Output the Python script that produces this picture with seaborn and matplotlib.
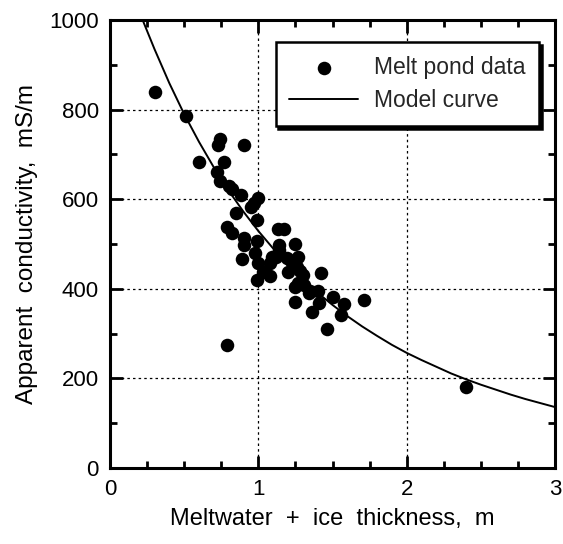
import matplotlib
matplotlib.use("Agg")
import matplotlib.pyplot as plt
import seaborn as sns
import pandas as pd
from matplotlib.ticker import MultipleLocator

# ---- data ----
thickness = [0.30, 0.51, 0.60, 0.74, 0.73, 0.90, 0.77, 0.72, 0.74, 0.80,
             0.82, 0.88, 1.00, 0.97, 0.95, 0.85, 0.99, 0.79, 0.82, 1.13,
             1.17, 0.90, 0.90, 0.99, 1.25, 1.14, 1.14, 0.98, 0.89, 1.09,
             1.19, 1.27, 1.00, 1.08, 1.26, 1.20, 1.30, 1.42, 1.03, 1.08,
             0.99, 1.27, 1.25, 1.34, 1.40, 1.50, 1.71, 1.58, 1.41, 1.25,
             1.36, 1.56, 1.46, 0.79, 2.40, 1.31, 1.22, 1.12, 1.28, 1.35]
conductivity = [840, 786, 683, 735, 722, 720, 683, 660, 640, 630,
                622, 610, 603, 592, 583, 570, 553, 538, 524, 533,
                533, 513, 498, 507, 500, 498, 487, 479, 466, 472,
                468, 472, 457, 457, 449, 438, 431, 435, 438, 429,
                420, 412, 405, 390, 394, 382, 375, 365, 369, 371,
                349, 342, 310, 275, 181, 408, 462, 470, 440, 395]

curve_x = [0.22, 0.3, 0.4, 0.5, 0.6, 0.7, 0.8, 0.9, 1.0, 1.1, 1.2, 1.3,
           1.4, 1.5, 1.6, 1.7, 1.8, 1.9, 2.0, 2.1, 2.2, 2.3, 2.4, 2.5,
           2.6, 2.7, 2.8, 2.9, 3.0]
curve_y = [1000, 935, 859, 790, 728, 671, 619, 572, 529, 490, 454, 421,
           391, 364, 339, 316, 295, 275, 257, 241, 226, 211, 198, 186,
           175, 164, 154, 145, 136]

x_ticks = [0, 1, 2, 3]
y_ticks = [0, 200, 400, 600, 800, 1000]

pts = pd.DataFrame({"x": thickness, "y": conductivity})
crv = pd.DataFrame({"x": curve_x, "y": curve_y})

sns.set_theme(style="white")
plt.rcParams["font.family"] = ["Liberation Sans", "DejaVu Sans"]

fig = plt.figure(figsize=(5.63, 5.44), dpi=100)
ax = fig.add_axes([0.1954, 0.1397, 0.7904, 0.8235])

ax.grid(False)
for xv in x_ticks[1:-1]:
    ax.axvline(xv, color="black", lw=0.9, ls=(0, (2, 2.5)), zorder=1)
for yv in y_ticks[1:-1]:
    ax.axhline(yv, color="black", lw=0.9, ls=(0, (2, 2.5)), zorder=1)

sns.scatterplot(data=pts, x="x", y="y", ax=ax, color="black", s=95,
                edgecolor="black", linewidth=0, label="Melt pond data", zorder=3)
sns.lineplot(data=crv, x="x", y="y", ax=ax, color="black", lw=1.4,
             estimator=None, sort=False, label="Model curve", zorder=2)

ax.set_xlim(0, 3)
ax.set_ylim(0, 1000)
ax.set_xticks(x_ticks)
ax.set_yticks(y_ticks)
ax.xaxis.set_minor_locator(MultipleLocator(0.25))
ax.yaxis.set_minor_locator(MultipleLocator(100))
ax.tick_params(which="both", direction="in", top=True, right=True,
               bottom=True, left=True, width=2, color="black",
               labelsize=16, labelcolor="black", pad=8)
ax.tick_params(which="major", length=9)
ax.tick_params(which="minor", length=5)
for sp in ax.spines.values():
    sp.set_linewidth(2.2)
    sp.set_color("black")

ax.set_xlabel("Meltwater  +  ice  thickness,  m", fontsize=17, color="black", labelpad=6)
ax.set_ylabel("Apparent  conductivity,  mS/m", fontsize=17.5, color="black", labelpad=8)

leg = ax.legend(loc="upper right", bbox_to_anchor=(0.965, 0.95), fontsize=16.5,
                frameon=True, fancybox=False, edgecolor="black",
                shadow={"color": "black", "alpha": 1},
                handlelength=3, borderpad=0.6, labelspacing=0.45,
                handletextpad=0.7, borderaxespad=0)
leg.get_frame().set_linewidth(1.8)
leg.get_frame().set_alpha(1)

fig.savefig("out.png", dpi=100)
